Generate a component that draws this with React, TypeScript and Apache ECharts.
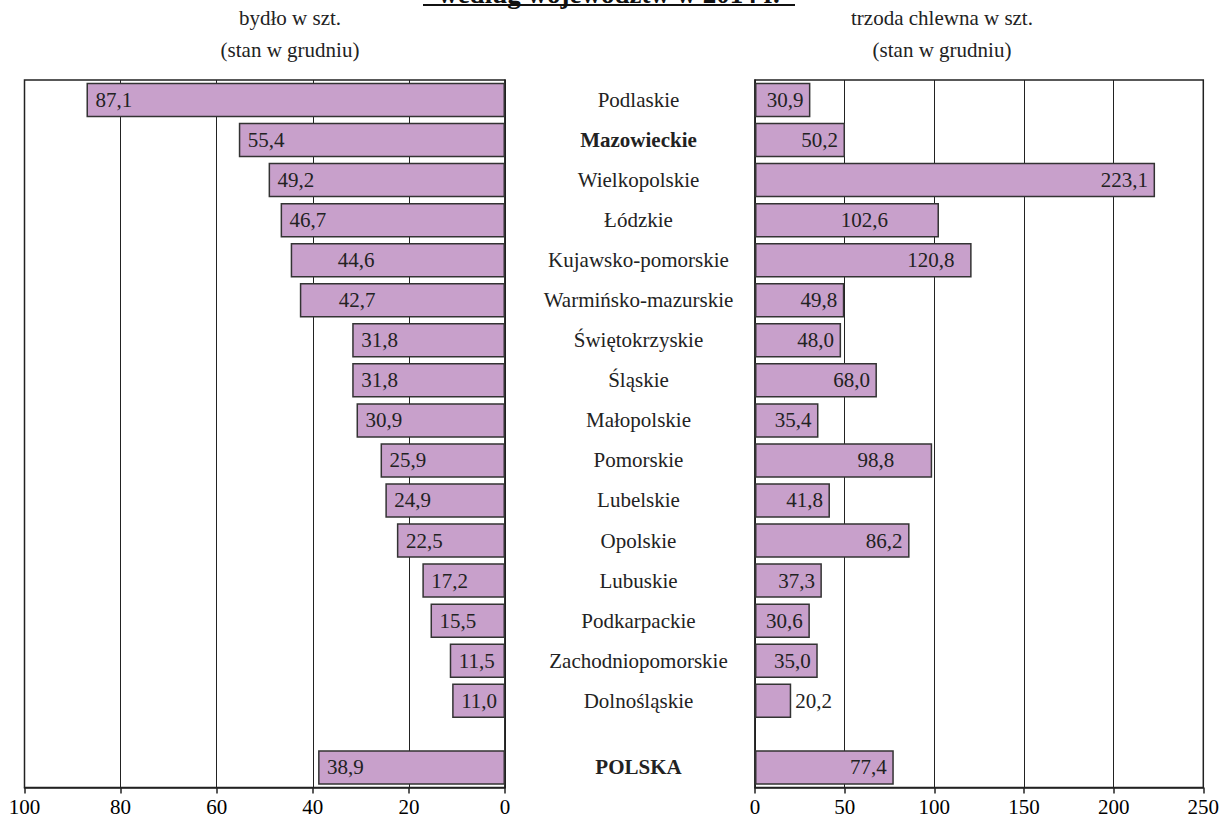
import React, { useEffect, useRef } from 'react';
import * as echarts from 'echarts';

const regions = [
  'Podlaskie', 'Mazowieckie', 'Wielkopolskie', 'Łódzkie', 'Kujawsko-pomorskie',
  'Warmińsko-mazurskie', 'Świętokrzyskie', 'Śląskie', 'Małopolskie', 'Pomorskie',
  'Lubelskie', 'Opolskie', 'Lubuskie', 'Podkarpackie', 'Zachodniopomorskie',
  'Dolnośląskie', 'POLSKA',
];
const boldRegions = ['Mazowieckie', 'POLSKA'];
const cattle = [87.1, 55.4, 49.2, 46.7, 44.6, 42.7, 31.8, 31.8, 30.9, 25.9, 24.9, 22.5, 17.2, 15.5, 11.5, 11.0, 38.9];
const pigs = [30.9, 50.2, 223.1, 102.6, 120.8, 49.8, 48.0, 68.0, 35.4, 98.8, 41.8, 86.2, 37.3, 30.6, 35.0, 20.2, 77.4];
const cattleAxis = { min: 0, max: 100, interval: 20 };
const pigsAxis = { min: 0, max: 250, interval: 50 };
const titleText = 'według województw w 2014 r.';
const leftHeader = ['bydło w szt.', '(stan w grudniu)'];
const rightHeader = ['trzoda chlewna w szt.', '(stan w grudniu)'];

// label nudges (styling, px)
const leftNudge: Record<number, number> = { 4: 38, 5: 30 };
const rightNudge: Record<number, number> = { 3: -44, 4: -10, 9: -31 };

const SLOTS = 53;
const slotOf = (i: number) => (i < 16 ? 1 + 3 * i : 51);
const FONT = "'Liberation Serif'";
const FS = 21;
const BAR_COLOR = '#c8a0cb';
const fmt = (v: number) => v.toFixed(1).replace('.', ',');

export default function App() {
  const ref = useRef<HTMLDivElement>(null);
  useEffect(() => {
    document.body.style.margin = '0';
    if (!ref.current) return;
    const chart = echarts.init(ref.current, undefined, { renderer: 'svg' });

    const slotNames: string[] = [];
    const slotLabel: Record<string, string> = {};
    for (let k = 0; k < SLOTS; k++) slotNames.push('s' + k);
    regions.forEach((r, i) => { slotLabel['s' + slotOf(i)] = r; });

    const leftData: any[] = new Array(SLOTS).fill('-');
    const rightData: any[] = new Array(SLOTS).fill('-');
    regions.forEach((_, i) => {
      const s = slotOf(i);
      leftData[s] = {
        value: cattle[i],
        label: leftNudge[i] ? { offset: [leftNudge[i], 0] } : undefined,
      };
      const pv = pigs[i];
      const small = pv < 25;
      rightData[s] = {
        value: pv,
        label: small
          ? { position: 'right', distance: 4 }
          : rightNudge[i] ? { offset: [rightNudge[i], 0] } : undefined,
      };
    });

    const gridTop = 80;
    const gridHeight = 707.5;

    const labelStyle = { fontFamily: FONT, fontSize: FS, color: '#222' };
    const headerStyle = { fontFamily: FONT, fontSize: FS, fill: '#222', align: 'center', verticalAlign: 'middle' };

    chart.setOption({
      animation: false,
      backgroundColor: '#fff',
      textStyle: { fontFamily: FONT },
      grid: [
        { left: 24.5, right: 719, top: gridTop, height: gridHeight, show: true, borderColor: '#222', borderWidth: 1.5, backgroundColor: '#fff' },
        { left: 755, right: 20.7, top: gridTop, height: gridHeight, show: true, borderColor: '#222', borderWidth: 1.5, backgroundColor: '#fff' },
      ],
      xAxis: [
        {
          gridIndex: 0, type: 'value', inverse: true, ...cattleAxis,
          axisLine: { show: true, lineStyle: { color: '#222', width: 1.5 } },
          axisTick: { show: true, length: 6, lineStyle: { color: '#222', width: 1.5 } },
          axisLabel: { ...labelStyle, color: '#000', margin: 9 },
          splitLine: { show: true, lineStyle: { color: '#222', width: 1 } },
        },
        {
          gridIndex: 1, type: 'value', ...pigsAxis,
          axisLine: { show: true, lineStyle: { color: '#222', width: 1.5 } },
          axisTick: { show: true, length: 6, lineStyle: { color: '#222', width: 1.5 } },
          axisLabel: { ...labelStyle, color: '#000', margin: 9 },
          splitLine: { show: true, lineStyle: { color: '#222', width: 1 } },
        },
      ],
      yAxis: [
        {
          gridIndex: 0, type: 'category', inverse: true, data: slotNames, position: 'right',
          axisLine: { show: true, onZero: false, lineStyle: { color: '#222', width: 1.5 } },
          axisTick: { show: false },
          splitLine: { show: false },
          axisLabel: {
            interval: 0, margin: 133.5, align: 'center',
            fontFamily: FONT, fontSize: FS, color: '#222',
            formatter: (v: string) => {
              const n = slotLabel[v];
              if (!n) return '';
              return boldRegions.includes(n) ? '{b|' + n + '}' : '{n|' + n + '}';
            },
            rich: {
              b: { fontFamily: FONT, fontSize: FS, fontWeight: 'bold', color: '#222' },
              n: { fontFamily: FONT, fontSize: FS, color: '#222' },
            },
          },
        },
        {
          gridIndex: 1, type: 'category', inverse: true, data: slotNames, position: 'left',
          axisLine: { show: true, onZero: false, lineStyle: { color: '#222', width: 1.5 } },
          axisTick: { show: false },
          axisLabel: { show: false },
          splitLine: { show: false },
        },
      ],
      series: [
        {
          type: 'bar', name: 'bydło', xAxisIndex: 0, yAxisIndex: 0, data: leftData,
          barWidth: 34.5,
          itemStyle: { color: BAR_COLOR, borderColor: '#333', borderWidth: 1.5 },
          label: { show: true, position: 'insideLeft', distance: 9, formatter: (p: any) => fmt(p.value), ...labelStyle },
        },
        {
          type: 'bar', name: 'trzoda chlewna', xAxisIndex: 1, yAxisIndex: 1, data: rightData,
          barWidth: 34.5,
          itemStyle: { color: BAR_COLOR, borderColor: '#333', borderWidth: 1.5 },
          label: { show: true, position: 'insideRight', distance: 7, formatter: (p: any) => fmt(p.value), ...labelStyle },
        },
      ],
      graphic: [
        {
          type: 'text', x: 609, y: 7, z: 10,
          style: { text: titleText, fontFamily: FONT, fontSize: 27, fontWeight: 'bold', fill: '#111', align: 'center', verticalAlign: 'bottom' },
        },
        { type: 'line', z: 10, shape: { x1: 423, y1: 5, x2: 795, y2: 5 }, style: { stroke: '#111', lineWidth: 2 } },
        { type: 'text', x: 290, y: 18, style: { text: leftHeader[0], ...headerStyle } },
        { type: 'text', x: 290, y: 50, style: { text: leftHeader[1], ...headerStyle } },
        { type: 'text', x: 942, y: 18, style: { text: rightHeader[0], ...headerStyle } },
        { type: 'text', x: 942, y: 50, style: { text: rightHeader[1], ...headerStyle } },
      ],
    });
    return () => chart.dispose();
  }, []);
  return <div ref={ref} style={{ width: 1224, height: 823 }} />;
}
